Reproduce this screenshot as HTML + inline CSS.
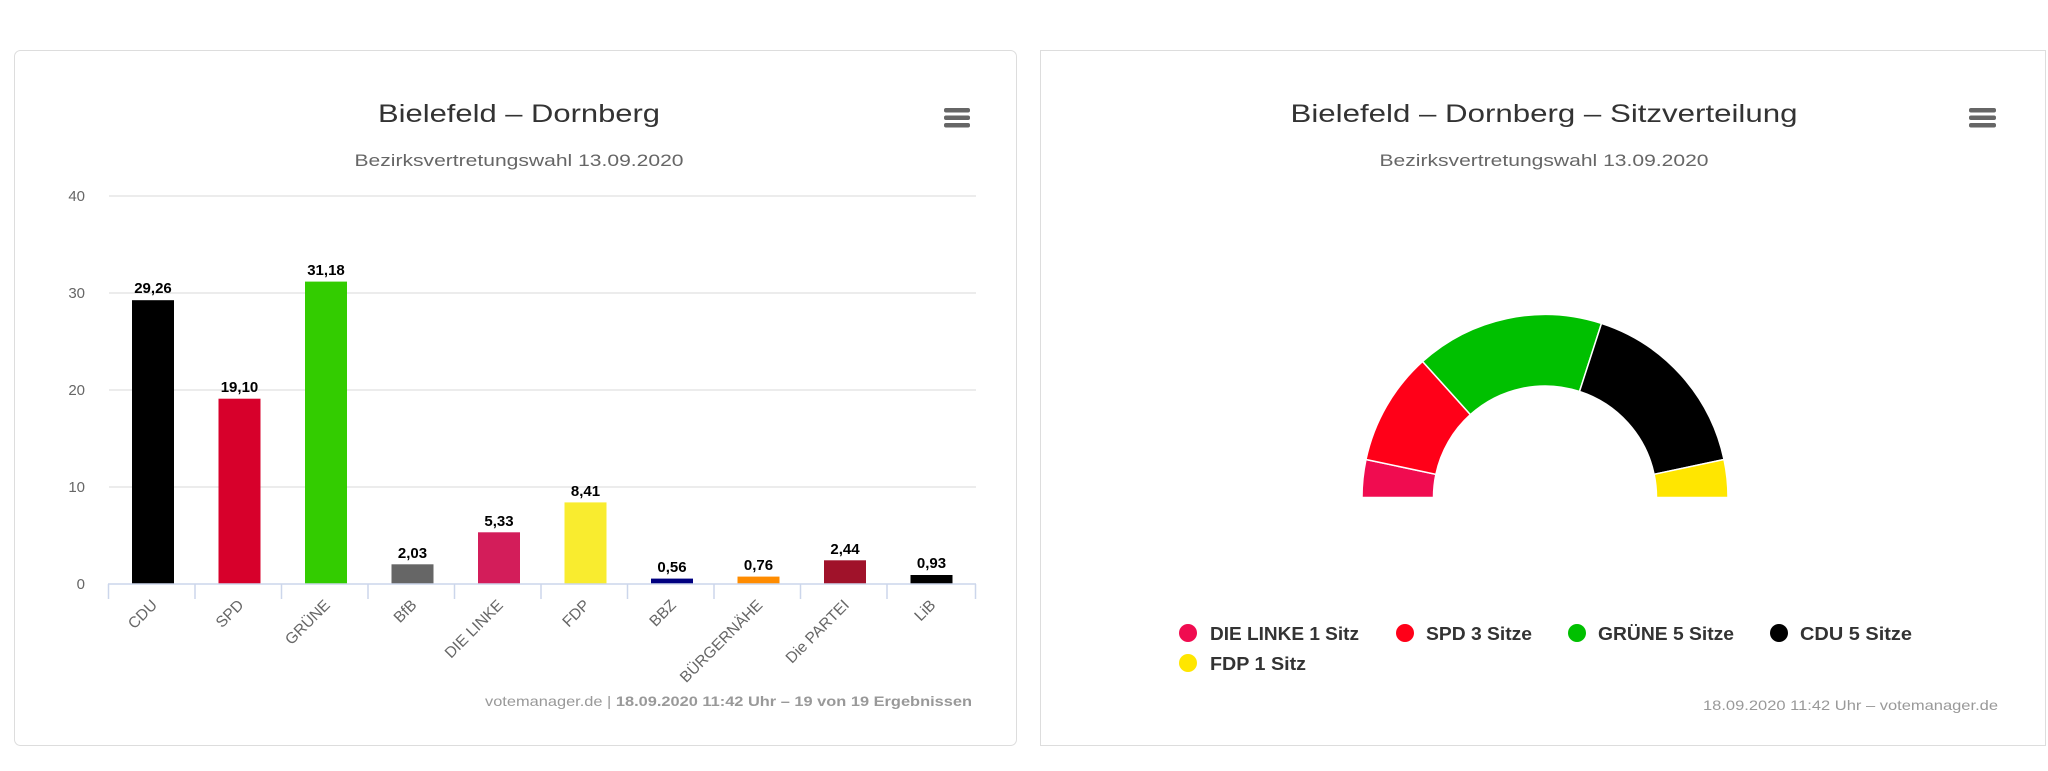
<!DOCTYPE html>
<html><head><meta charset="utf-8"><style>
html,body{margin:0;padding:0;background:#fff;}
svg{display:block;font-family:"Liberation Sans",sans-serif;}
</style></head><body>
<svg width="2048" height="771" viewBox="0 0 2048 771" xmlns="http://www.w3.org/2000/svg">
<!-- left card -->
<rect x="14.5" y="50.5" width="1002" height="695" rx="6" fill="#fff" stroke="#dddddd"/>
<text x="519" y="122" text-anchor="middle" font-size="25" fill="#333" textLength="282" lengthAdjust="spacingAndGlyphs">Bielefeld – Dornberg</text>
<text x="519" y="166" text-anchor="middle" font-size="17" fill="#666" textLength="329" lengthAdjust="spacingAndGlyphs">Bezirksvertretungswahl 13.09.2020</text>
<g fill="#666"><rect x="944" y="108" width="26" height="4.5" rx="2"/><rect x="944" y="115.5" width="26" height="4.5" rx="2"/><rect x="944" y="123" width="26" height="4.5" rx="2"/></g>
<g stroke="#e6e6e6" stroke-width="1.5">
<line x1="109" y1="196" x2="976" y2="196"/><line x1="109" y1="293" x2="976" y2="293"/><line x1="109" y1="390" x2="976" y2="390"/><line x1="109" y1="487" x2="976" y2="487"/></g>
<g font-size="15" fill="#666" text-anchor="end">
<text x="85" y="201">40</text><text x="85" y="298">30</text><text x="85" y="395">20</text><text x="85" y="492">10</text><text x="85" y="589">0</text></g>
<g>
<rect x="132" y="300.2" width="42" height="283.8" fill="#000"/>
<rect x="218.5" y="398.7" width="42" height="185.3" fill="#d7002b"/>
<rect x="305" y="281.6" width="42" height="302.4" fill="#33cc00"/>
<rect x="391.5" y="564.3" width="42" height="19.7" fill="#666"/>
<rect x="478" y="532.3" width="42" height="51.7" fill="#d31d5a"/>
<rect x="564.5" y="502.4" width="42" height="81.6" fill="#f9ec2f"/>
<rect x="651" y="578.6" width="42" height="5.4" fill="#000080"/>
<rect x="737.5" y="576.6" width="42" height="7.4" fill="#ff8c00"/>
<rect x="824" y="560.3" width="42" height="23.7" fill="#a0122a"/>
<rect x="910.5" y="575" width="42" height="9" fill="#000"/>
</g>
<g font-size="15" font-weight="bold" fill="#000" text-anchor="middle">
<text x="153" y="293">29,26</text><text x="239.5" y="392">19,10</text><text x="326" y="275">31,18</text>
<text x="412.5" y="558">2,03</text><text x="499" y="526">5,33</text><text x="585.5" y="496">8,41</text>
<text x="672" y="572">0,56</text><text x="758.5" y="570">0,76</text><text x="845" y="554">2,44</text><text x="931.5" y="568">0,93</text></g>
<g stroke="#ccd6eb" stroke-width="1.5">
<line x1="108" y1="584" x2="976" y2="584"/>
<line x1="108.5" y1="584" x2="108.5" y2="599"/><line x1="195" y1="584" x2="195" y2="599"/><line x1="281.5" y1="584" x2="281.5" y2="599"/><line x1="368" y1="584" x2="368" y2="599"/><line x1="454.5" y1="584" x2="454.5" y2="599"/><line x1="541" y1="584" x2="541" y2="599"/><line x1="627.5" y1="584" x2="627.5" y2="599"/><line x1="714" y1="584" x2="714" y2="599"/><line x1="800.5" y1="584" x2="800.5" y2="599"/><line x1="887" y1="584" x2="887" y2="599"/><line x1="975.5" y1="584" x2="975.5" y2="599"/></g>
<g font-size="15.5" fill="#666" text-anchor="end">
<text transform="translate(158,606) rotate(-45)">CDU</text>
<text transform="translate(244.5,606) rotate(-45)">SPD</text>
<text transform="translate(331,606) rotate(-45)">GRÜNE</text>
<text transform="translate(417.5,606) rotate(-45)">BfB</text>
<text transform="translate(504,606) rotate(-45)">DIE LINKE</text>
<text transform="translate(590.5,606) rotate(-45)">FDP</text>
<text transform="translate(677,606) rotate(-45)">BBZ</text>
<text transform="translate(763.5,606) rotate(-45)">BÜRGERNÄHE</text>
<text transform="translate(850,606) rotate(-45)">Die PARTEI</text>
<text transform="translate(936.5,606) rotate(-45)">LiB</text></g>
<text x="972" y="706" text-anchor="end" font-size="14" fill="#999" textLength="487" lengthAdjust="spacingAndGlyphs">votemanager.de | <tspan font-weight="bold">18.09.2020 11:42 Uhr – 19 von 19 Ergebnissen</tspan></text>

<!-- right card -->
<rect x="1040.5" y="50.5" width="1005" height="695" fill="#fff" stroke="#dddddd"/>
<text x="1544" y="122" text-anchor="middle" font-size="25" fill="#333" textLength="507" lengthAdjust="spacingAndGlyphs">Bielefeld – Dornberg – Sitzverteilung</text>
<text x="1544" y="166" text-anchor="middle" font-size="17" fill="#666" textLength="329" lengthAdjust="spacingAndGlyphs">Bezirksvertretungswahl 13.09.2020</text>
<g fill="#666"><rect x="1969" y="108" width="27" height="4.5" rx="2"/><rect x="1969" y="115.5" width="27" height="4.5" rx="2"/><rect x="1969" y="123" width="27" height="4.5" rx="2"/></g>
<g stroke="#fff" stroke-width="1.5">
<path d="M1362 497.5 A183 183 0 0 1 1366 459.5 L1435.9 474.3 A111.5 111.5 0 0 0 1433.5 497.5 Z" fill="#f00c50"/>
<path d="M1366 459.5 A183 183 0 0 1 1422.6 361.5 L1470.4 414.6 A111.5 111.5 0 0 0 1435.9 474.3 Z" fill="#ff0018"/>
<path d="M1422.6 361.5 A183 183 0 0 1 1601.5 323.4 L1579.5 391.5 A111.5 111.5 0 0 0 1470.4 414.6 Z" fill="#00c000"/>
<path d="M1601.5 323.4 A183 183 0 0 1 1724 459.5 L1654.1 474.3 A111.5 111.5 0 0 0 1579.5 391.5 Z" fill="#000"/>
<path d="M1724 459.5 A183 183 0 0 1 1728 497.5 L1656.5 497.5 A111.5 111.5 0 0 0 1654.1 474.3 Z" fill="#ffe600"/>
</g>
<g font-size="18" font-weight="bold" fill="#333">
<circle cx="1188" cy="633" r="9" fill="#f00c50"/><text x="1210" y="640" textLength="149" lengthAdjust="spacingAndGlyphs">DIE LINKE 1 Sitz</text>
<circle cx="1405" cy="633" r="9" fill="#ff0018"/><text x="1426" y="640" textLength="106" lengthAdjust="spacingAndGlyphs">SPD 3 Sitze</text>
<circle cx="1577" cy="633" r="9" fill="#00c000"/><text x="1598" y="640" textLength="136" lengthAdjust="spacingAndGlyphs">GRÜNE 5 Sitze</text>
<circle cx="1779" cy="633" r="9" fill="#000"/><text x="1800" y="640" textLength="112" lengthAdjust="spacingAndGlyphs">CDU 5 Sitze</text>
<circle cx="1188" cy="663" r="9" fill="#ffe600"/><text x="1210" y="670" textLength="96" lengthAdjust="spacingAndGlyphs">FDP 1 Sitz</text>
</g>
<text x="1998" y="710" text-anchor="end" font-size="14" fill="#999" textLength="295" lengthAdjust="spacingAndGlyphs">18.09.2020 11:42 Uhr – votemanager.de</text>
</svg>
</body></html>
